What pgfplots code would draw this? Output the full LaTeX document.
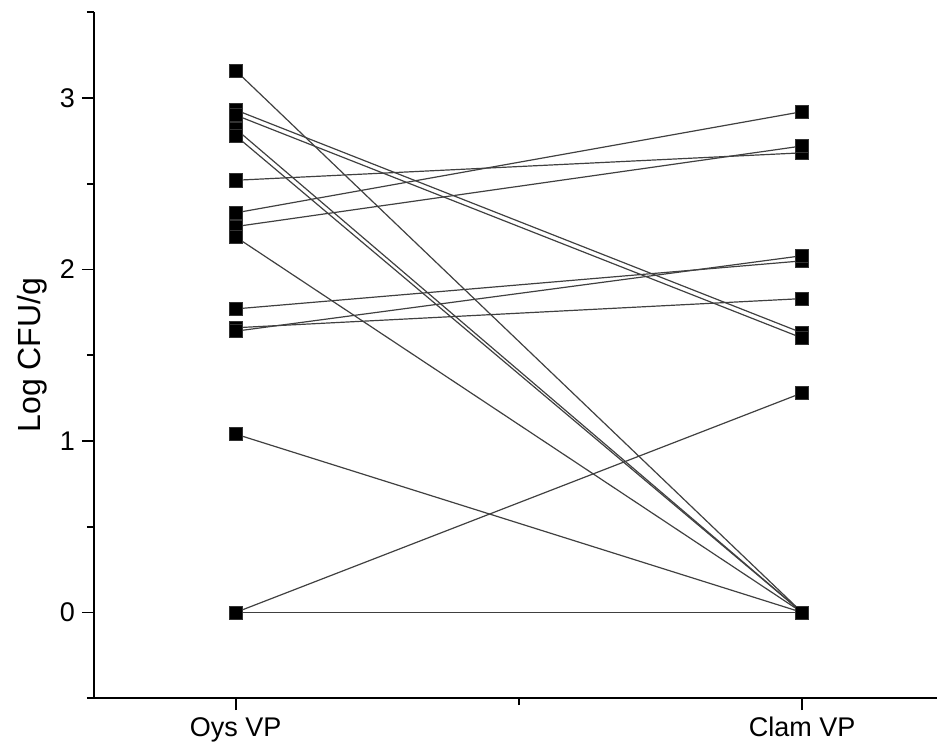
\documentclass[border=0pt]{standalone}
\usepackage{pgfplots}
\pgfplotsset{compat=1.18}
\usepackage{fontspec}
\setmainfont{Liberation Sans}
\definecolor{ln}{RGB}{64,64,64}
\tikzset{pr/.style={ln, line width=0.6pt, mark=square*, mark size=3.3pt,
     mark options={draw=black!80, fill=black, line width=0.3pt, solid}}}
\begin{document}
\begin{tikzpicture}
\begin{axis}[
  name=ax,
  scale only axis,
  width=421.5pt, height=343pt,
  xmin=0.75, xmax=2.238,
  ymin=-0.5, ymax=3.5,
  axis x line*=bottom, axis y line*=left,
  axis line style={line width=1pt, black},
  tick align=outside,
  major tick length=6pt, minor tick length=3.5pt,
  every tick/.style={black, line width=0.9pt},
  xtick={1,2}, xticklabels={Oys VP, Clam VP},
  minor xtick={1.5},
  ytick={0,1,2,3},
  minor ytick={-0.5,0.5,1.5,2.5,3.5},
  /pgf/number format/assume math mode=true,
  tick label style={font=\fontsize{13.5}{16}\selectfont},
  ylabel={Log CFU/g},
  ylabel style={at={(axis description cs:-0.0735,0.5)}, anchor=center, font=\fontsize{16}{19}\selectfont},
  clip=false,
]
\addplot[pr] coordinates {(1,3.16) (2,0)};
\addplot[pr] coordinates {(1,2.93) (2,1.63)};
\addplot[pr] coordinates {(1,2.90) (2,1.60)};
\addplot[pr] coordinates {(1,2.82) (2,0)};
\addplot[pr] coordinates {(1,2.78) (2,0)};
\addplot[pr] coordinates {(1,2.52) (2,2.68)};
\addplot[pr] coordinates {(1,2.33) (2,2.92)};
\addplot[pr] coordinates {(1,2.25) (2,2.72)};
\addplot[pr] coordinates {(1,2.19) (2,0)};
\addplot[pr] coordinates {(1,1.77) (2,2.05)};
\addplot[pr] coordinates {(1,1.66) (2,1.83)};
\addplot[pr] coordinates {(1,1.64) (2,2.08)};
\addplot[pr] coordinates {(1,1.04) (2,0)};
\addplot[pr] coordinates {(1,0) (2,1.28)};
\addplot[pr] coordinates {(1,0) (2,0)};
\end{axis}
\pgfresetboundingbox
\path[use as bounding box] ([xshift=-47pt,yshift=-28.4pt]ax.south west) rectangle ([yshift=6.1pt]ax.north east);
\end{tikzpicture}
\end{document}
